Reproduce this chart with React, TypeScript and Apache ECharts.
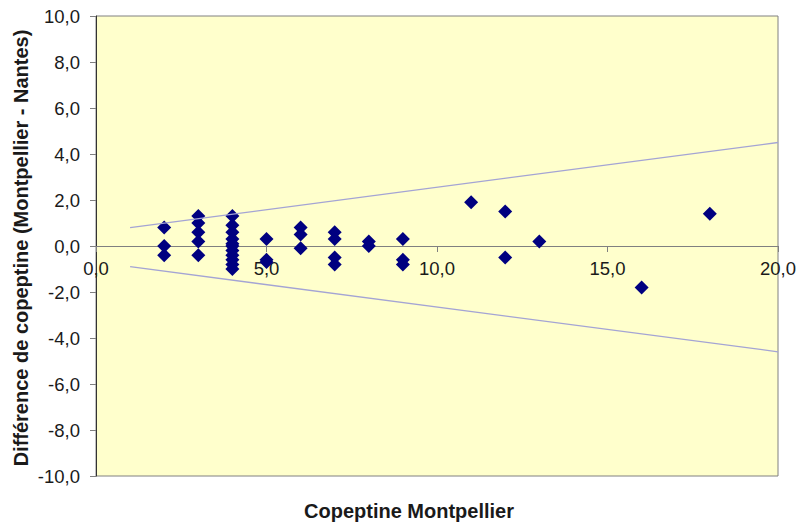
import React, { useEffect, useRef } from "react";
import * as echarts from "echarts";

const xValues: number[] = [
  2, 2, 2,
  3, 3, 3, 3, 3,
  4, 4, 4, 4, 4, 4, 4, 4, 4, 4, 4,
  5, 5, 5,
  6, 6, 6,
  7, 7, 7, 7,
  8, 8,
  9, 9, 9,
  11,
  12, 12,
  13,
  16,
  18,
];
const yValues: number[] = [
  0.8, 0.0, -0.4,
  1.3, 1.0, 0.6, 0.2, -0.4,
  1.3, 0.9, 0.6, 0.3, 0.1, 0.0, -0.2, -0.4, -0.6, -0.8, -1.0,
  0.3, -0.6, -0.7,
  0.8, 0.5, -0.1,
  0.6, 0.3, -0.5, -0.8,
  0.2, 0.0,
  0.3, -0.6, -0.8,
  1.9,
  1.5, -0.5,
  0.2,
  -1.8,
  1.4,
];
const upperLimit: number[][] = [
  [1, 0.8],
  [20, 4.5],
];
const lowerLimit: number[][] = [
  [1, -0.9],
  [20, -4.6],
];
const xTitle = "Copeptine Montpellier";
const yTitle = "Différence de copeptine (Montpellier - Nantes)";

const fmt = (v: number) => v.toFixed(1).replace(".", ",");

export default function App() {
  const ref = useRef<HTMLDivElement>(null);
  useEffect(() => {
    if (!ref.current) return;
    const chart = echarts.init(ref.current, null, { renderer: "svg" });
    const font = "Liberation Sans, Arial, sans-serif";
    chart.setOption({
      animation: false,
      backgroundColor: "#ffffff",
      textStyle: { fontFamily: font },
      grid: {
        left: 96,
        top: 16,
        right: 23,
        bottom: 49,
        show: true,
        backgroundColor: "#FFFFCC",
        borderColor: "#808080",
        borderWidth: 1,
      },
      xAxis: {
        type: "value",
        min: 0,
        max: 20,
        interval: 5,
        offset: -230,
        axisLine: { onZero: false, lineStyle: { color: "#808080", width: 1 } },
        axisTick: { show: true, length: 6, inside: false, lineStyle: { color: "#808080" } },
        axisLabel: {
          formatter: fmt,
          fontSize: 18.5,
          color: "#1a1a1a",
          margin: 13,
          fontFamily: font,
        },
        splitLine: { show: false },
      },
      yAxis: {
        type: "value",
        min: -10,
        max: 10,
        interval: 2,
        axisLine: { show: true, lineStyle: { color: "#333333", width: 1 } },
        axisTick: { show: true, length: 6, lineStyle: { color: "#808080" } },
        axisLabel: {
          formatter: fmt,
          fontSize: 18.5,
          color: "#1a1a1a",
          margin: 16,
          fontFamily: font,
        },
        splitLine: { show: false },
      },
      graphic: [
        {
          type: "text",
          x: 409,
          y: 511,
          style: {
            text: xTitle,
            font: `bold 20px ${font}`,
            fill: "#1a1a1a",
            align: "center",
            verticalAlign: "middle",
          },
        },
        {
          type: "text",
          x: 21,
          y: 248,
          rotation: Math.PI / 2,
          style: {
            text: yTitle,
            font: `bold 20px ${font}`,
            fill: "#1a1a1a",
            align: "center",
            verticalAlign: "middle",
          },
        },
      ],
      series: [
        {
          type: "line",
          data: upperLimit,
          symbol: "none",
          lineStyle: { color: "#A4A4D4", width: 1.3 },
          silent: true,
        },
        {
          type: "line",
          data: lowerLimit,
          symbol: "none",
          lineStyle: { color: "#A4A4D4", width: 1.3 },
          silent: true,
        },
        {
          type: "scatter",
          data: xValues.map((x, i) => [x, yValues[i]]),
          symbol: "diamond",
          symbolSize: 14,
          itemStyle: { color: "#000080", opacity: 1 },
        },
      ],
    });
    return () => chart.dispose();
  }, []);
  return <div ref={ref} style={{ width: 801, height: 525, position: "absolute", left: 0, top: 0 }} />;
}
